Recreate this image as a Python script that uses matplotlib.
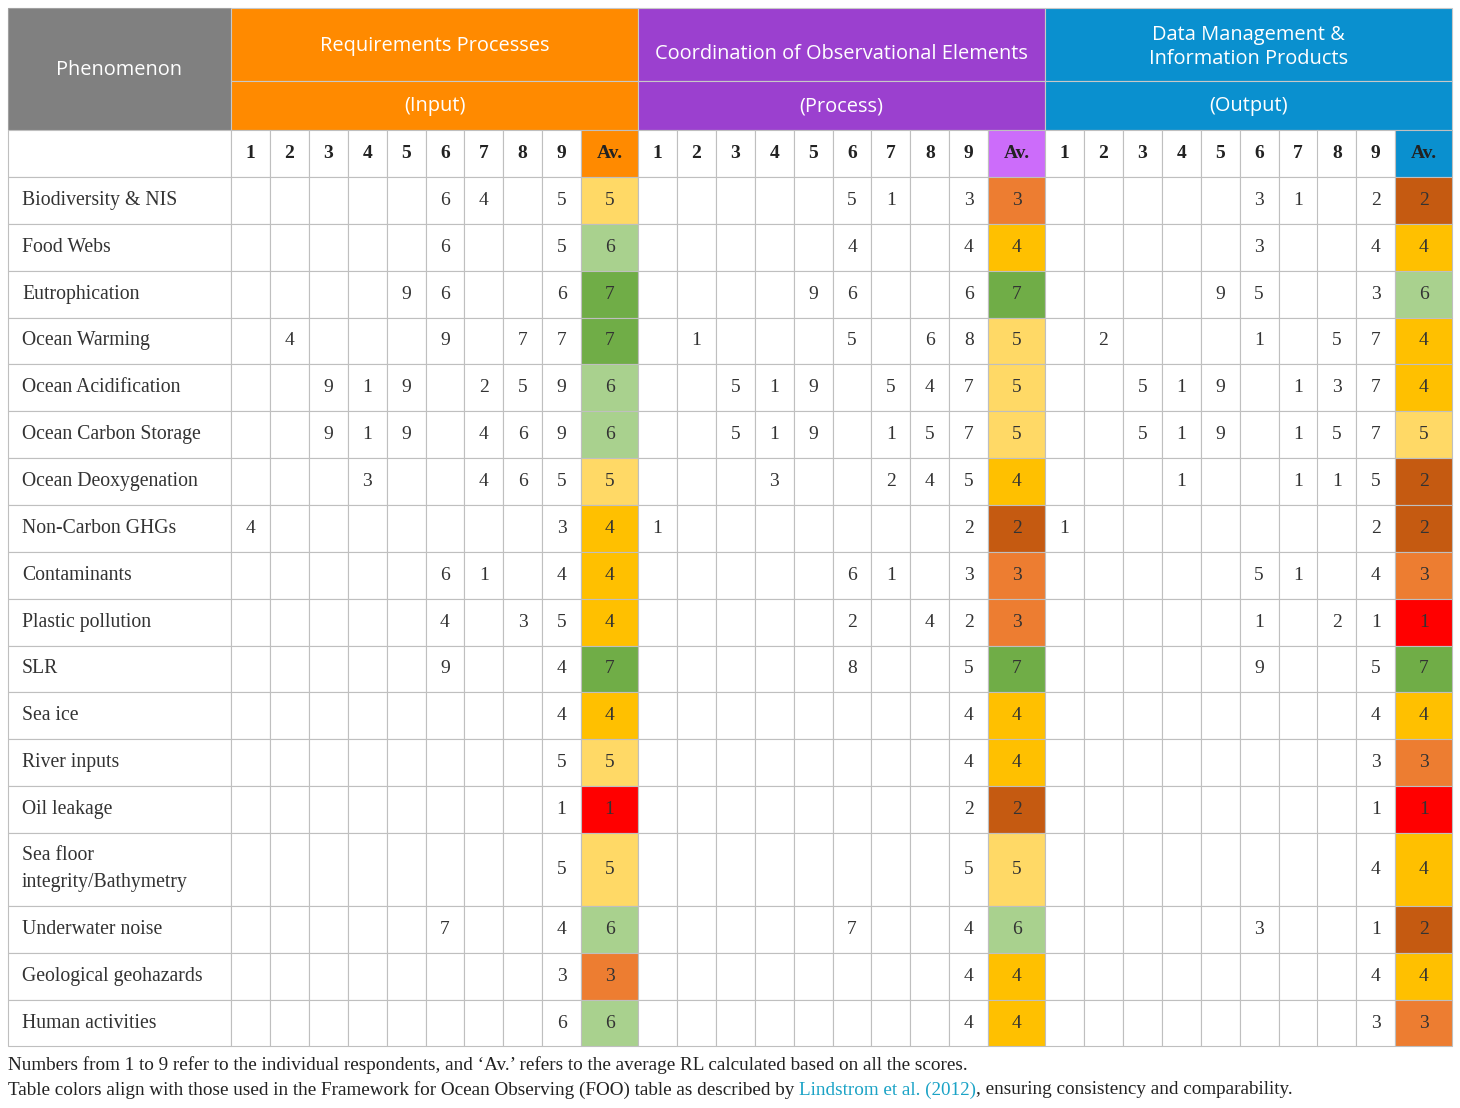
"""Readiness-level table: respondent scores and averages per phenomenon, drawn as a matplotlib table figure."""
import matplotlib

matplotlib.use("Agg")
import matplotlib.pyplot as plt
from matplotlib.patches import Rectangle

PHENOMENA = [
    "Biodiversity & NIS", "Food Webs", "Eutrophication", "Ocean Warming",
    "Ocean Acidification", "Ocean Carbon Storage", "Ocean Deoxygenation",
    "Non-Carbon GHGs", "Contaminants", "Plastic pollution", "SLR", "Sea ice",
    "River inputs", "Oil leakage", "Sea floor\nintegrity/Bathymetry",
    "Underwater noise", "Geological geohazards", "Human activities",
]

# 0 = no answer from that respondent
INPUT = [
    [0, 0, 0, 0, 0, 6, 4, 0, 5],
    [0, 0, 0, 0, 0, 6, 0, 0, 5],
    [0, 0, 0, 0, 9, 6, 0, 0, 6],
    [0, 4, 0, 0, 0, 9, 0, 7, 7],
    [0, 0, 9, 1, 9, 0, 2, 5, 9],
    [0, 0, 9, 1, 9, 0, 4, 6, 9],
    [0, 0, 0, 3, 0, 0, 4, 6, 5],
    [4, 0, 0, 0, 0, 0, 0, 0, 3],
    [0, 0, 0, 0, 0, 6, 1, 0, 4],
    [0, 0, 0, 0, 0, 4, 0, 3, 5],
    [0, 0, 0, 0, 0, 9, 0, 0, 4],
    [0, 0, 0, 0, 0, 0, 0, 0, 4],
    [0, 0, 0, 0, 0, 0, 0, 0, 5],
    [0, 0, 0, 0, 0, 0, 0, 0, 1],
    [0, 0, 0, 0, 0, 0, 0, 0, 5],
    [0, 0, 0, 0, 0, 7, 0, 0, 4],
    [0, 0, 0, 0, 0, 0, 0, 0, 3],
    [0, 0, 0, 0, 0, 0, 0, 0, 6],
]
INPUT_AV = [5, 6, 7, 7, 6, 6, 5, 4, 4, 4, 7, 4, 5, 1, 5, 6, 3, 6]

PROCESS = [
    [0, 0, 0, 0, 0, 5, 1, 0, 3],
    [0, 0, 0, 0, 0, 4, 0, 0, 4],
    [0, 0, 0, 0, 9, 6, 0, 0, 6],
    [0, 1, 0, 0, 0, 5, 0, 6, 8],
    [0, 0, 5, 1, 9, 0, 5, 4, 7],
    [0, 0, 5, 1, 9, 0, 1, 5, 7],
    [0, 0, 0, 3, 0, 0, 2, 4, 5],
    [1, 0, 0, 0, 0, 0, 0, 0, 2],
    [0, 0, 0, 0, 0, 6, 1, 0, 3],
    [0, 0, 0, 0, 0, 2, 0, 4, 2],
    [0, 0, 0, 0, 0, 8, 0, 0, 5],
    [0, 0, 0, 0, 0, 0, 0, 0, 4],
    [0, 0, 0, 0, 0, 0, 0, 0, 4],
    [0, 0, 0, 0, 0, 0, 0, 0, 2],
    [0, 0, 0, 0, 0, 0, 0, 0, 5],
    [0, 0, 0, 0, 0, 7, 0, 0, 4],
    [0, 0, 0, 0, 0, 0, 0, 0, 4],
    [0, 0, 0, 0, 0, 0, 0, 0, 4],
]
PROCESS_AV = [3, 4, 7, 5, 5, 5, 4, 2, 3, 3, 7, 4, 4, 2, 5, 6, 4, 4]

OUTPUT = [
    [0, 0, 0, 0, 0, 3, 1, 0, 2],
    [0, 0, 0, 0, 0, 3, 0, 0, 4],
    [0, 0, 0, 0, 9, 5, 0, 0, 3],
    [0, 2, 0, 0, 0, 1, 0, 5, 7],
    [0, 0, 5, 1, 9, 0, 1, 3, 7],
    [0, 0, 5, 1, 9, 0, 1, 5, 7],
    [0, 0, 0, 1, 0, 0, 1, 1, 5],
    [1, 0, 0, 0, 0, 0, 0, 0, 2],
    [0, 0, 0, 0, 0, 5, 1, 0, 4],
    [0, 0, 0, 0, 0, 1, 0, 2, 1],
    [0, 0, 0, 0, 0, 9, 0, 0, 5],
    [0, 0, 0, 0, 0, 0, 0, 0, 4],
    [0, 0, 0, 0, 0, 0, 0, 0, 3],
    [0, 0, 0, 0, 0, 0, 0, 0, 1],
    [0, 0, 0, 0, 0, 0, 0, 0, 4],
    [0, 0, 0, 0, 0, 3, 0, 0, 1],
    [0, 0, 0, 0, 0, 0, 0, 0, 4],
    [0, 0, 0, 0, 0, 0, 0, 0, 3],
]
OUTPUT_AV = [2, 4, 6, 4, 4, 5, 2, 2, 3, 1, 7, 4, 3, 1, 4, 2, 4, 3]

GROUP_TITLES = ["Requirements Processes", "Coordination of Observational Elements",
                "Data Management &\nInformation Products"]
GROUP_SUBTITLES = ["(Input)", "(Process)", "(Output)"]
RESPONDENTS = [str(i) for i in range(1, 10)]

# FOO readiness-level palette, 1..7
RL_COLORS = {1: "#FF0000", 2: "#C55A11", 3: "#ED7D31", 4: "#FFC000",
             5: "#FFD966", 6: "#A9D18E", 7: "#70AD47"}
GROUP_COLORS = ["#FF8A00", "#9B40CF", "#0A90CF"]
AV_HEAD_COLORS = ["#FF8A00", "#CC6CFA", "#0A90CF"]
GRID = "#BFBFBF"
TXT = "#333333"
SANS = ["Open Sans", "DejaVu Sans"]
SERIF = ["Liberation Serif", "DejaVu Serif"]
HEAD_FS, BODY_FS, CAP_FS = 14.4, 14, 13.8

# layout in pixels
X0, FIRST_W, NUM_W, AV_W = 8, 223, 38.9, 57
Y_HEAD = [8, 81, 130, 177]
ROW_H, TALL_H = 46.85, 73

fig = plt.figure(figsize=(14.6, 11.08), dpi=100)
ax = fig.add_axes([0, 0, 1, 1])
ax.set_xlim(0, 1460)
ax.set_ylim(1108, 0)
ax.axis("off")


def cell(x, y, w, h, fc, ec=GRID, lw=0.8):
    ax.add_patch(Rectangle((x, y), w, h, facecolor=fc, edgecolor=ec, linewidth=lw))


# column edges
group_x = [X0 + FIRST_W + g * (9 * NUM_W + AV_W) for g in range(3)]
group_w = 9 * NUM_W + AV_W

# row edges
row_y = [Y_HEAD[-1]]
for name in PHENOMENA:
    row_y.append(row_y[-1] + (TALL_H if "\n" in name else ROW_H))

# header: phenomenon
cell(X0, Y_HEAD[0], FIRST_W, Y_HEAD[2] - Y_HEAD[0], "#808080", ec="#A0A0A0")
ax.text(X0 + FIRST_W / 2, (Y_HEAD[0] + Y_HEAD[2]) / 2 + 1, "Phenomenon", family=SANS,
        fontsize=HEAD_FS, color="white", ha="center", va="center")
cell(X0, Y_HEAD[2], FIRST_W, Y_HEAD[3] - Y_HEAD[2], "white")

title_y = [46, 54, 47]
for g in range(3):
    gx = group_x[g]
    cell(gx, Y_HEAD[0], group_w, Y_HEAD[1] - Y_HEAD[0], GROUP_COLORS[g], ec="#C8C8C8")
    cell(gx, Y_HEAD[1], group_w, Y_HEAD[2] - Y_HEAD[1], GROUP_COLORS[g], ec="#C8C8C8")
    ax.text(gx + group_w / 2, title_y[g], GROUP_TITLES[g], family=SANS, fontsize=HEAD_FS,
            color="white", ha="center", va="center", linespacing=1.32)
    ax.text(gx + group_w / 2, (Y_HEAD[1] + Y_HEAD[2]) / 2 + 1, GROUP_SUBTITLES[g], family=SANS,
            fontsize=HEAD_FS, color="white", ha="center", va="center")
    hy, hh = Y_HEAD[2], Y_HEAD[3] - Y_HEAD[2]
    for j, lab in enumerate(RESPONDENTS):
        cell(gx + j * NUM_W, hy, NUM_W, hh, "white")
        ax.text(gx + (j + 0.5) * NUM_W, hy + hh / 2, lab, family=SERIF, fontsize=BODY_FS,
                fontweight="bold", color="#222222", ha="center", va="center")
    ax_x = gx + 9 * NUM_W
    cell(ax_x, hy, AV_W, hh, AV_HEAD_COLORS[g])
    ax.text(ax_x + AV_W / 2, hy + hh / 2, "Av.", family=SERIF, fontsize=BODY_FS,
            fontweight="bold", color="#222222", ha="center", va="center")

# body
groups = [(INPUT, INPUT_AV), (PROCESS, PROCESS_AV), (OUTPUT, OUTPUT_AV)]
for i, name in enumerate(PHENOMENA):
    y, h = row_y[i], row_y[i + 1] - row_y[i]
    cy = y + h / 2
    cell(X0, y, FIRST_W, h, "white")
    ax.text(X0 + 14, cy, name, family=SERIF, fontsize=14.2, color=TXT,
            ha="left", va="center", linespacing=1.56)
    for g, (scores, avs) in enumerate(groups):
        gx = group_x[g]
        for j, v in enumerate(scores[i]):
            cell(gx + j * NUM_W, y, NUM_W, h, "white")
            if v:
                ax.text(gx + (j + 0.5) * NUM_W, cy, str(v), family=SERIF, fontsize=BODY_FS,
                        color=TXT, ha="center", va="center")
        av = avs[i]
        cell(gx + 9 * NUM_W, y, AV_W, h, RL_COLORS[av])
        ax.text(gx + 9 * NUM_W + AV_W / 2, cy, str(av), family=SERIF, fontsize=BODY_FS,
                color=TXT, ha="center", va="center")

# caption
ax.text(X0, 1065, "Numbers from 1 to 9 refer to the individual respondents, and \u2018Av.\u2019 "
        "refers to the average RL calculated based on all the scores.",
        family=SERIF, fontsize=CAP_FS, color="#222222", ha="left", va="center")
pieces = [("Table colors align with those used in the Framework for Ocean Observing (FOO) "
           "table as described by ", "#222222"),
          ("Lindstrom et al. (2012)", "#1BA3C6"),
          (", ensuring consistency and comparability.", "#222222")]
renderer = fig.canvas.get_renderer()
x = X0
for s, col in pieces:
    t = ax.text(x, 1090, s, family=SERIF, fontsize=CAP_FS, color=col, ha="left", va="center")
    bb = t.get_window_extent(renderer=renderer).transformed(ax.transData.inverted())
    x = bb.x1

fig.savefig("out.png", dpi=100)
plt.close(fig)
